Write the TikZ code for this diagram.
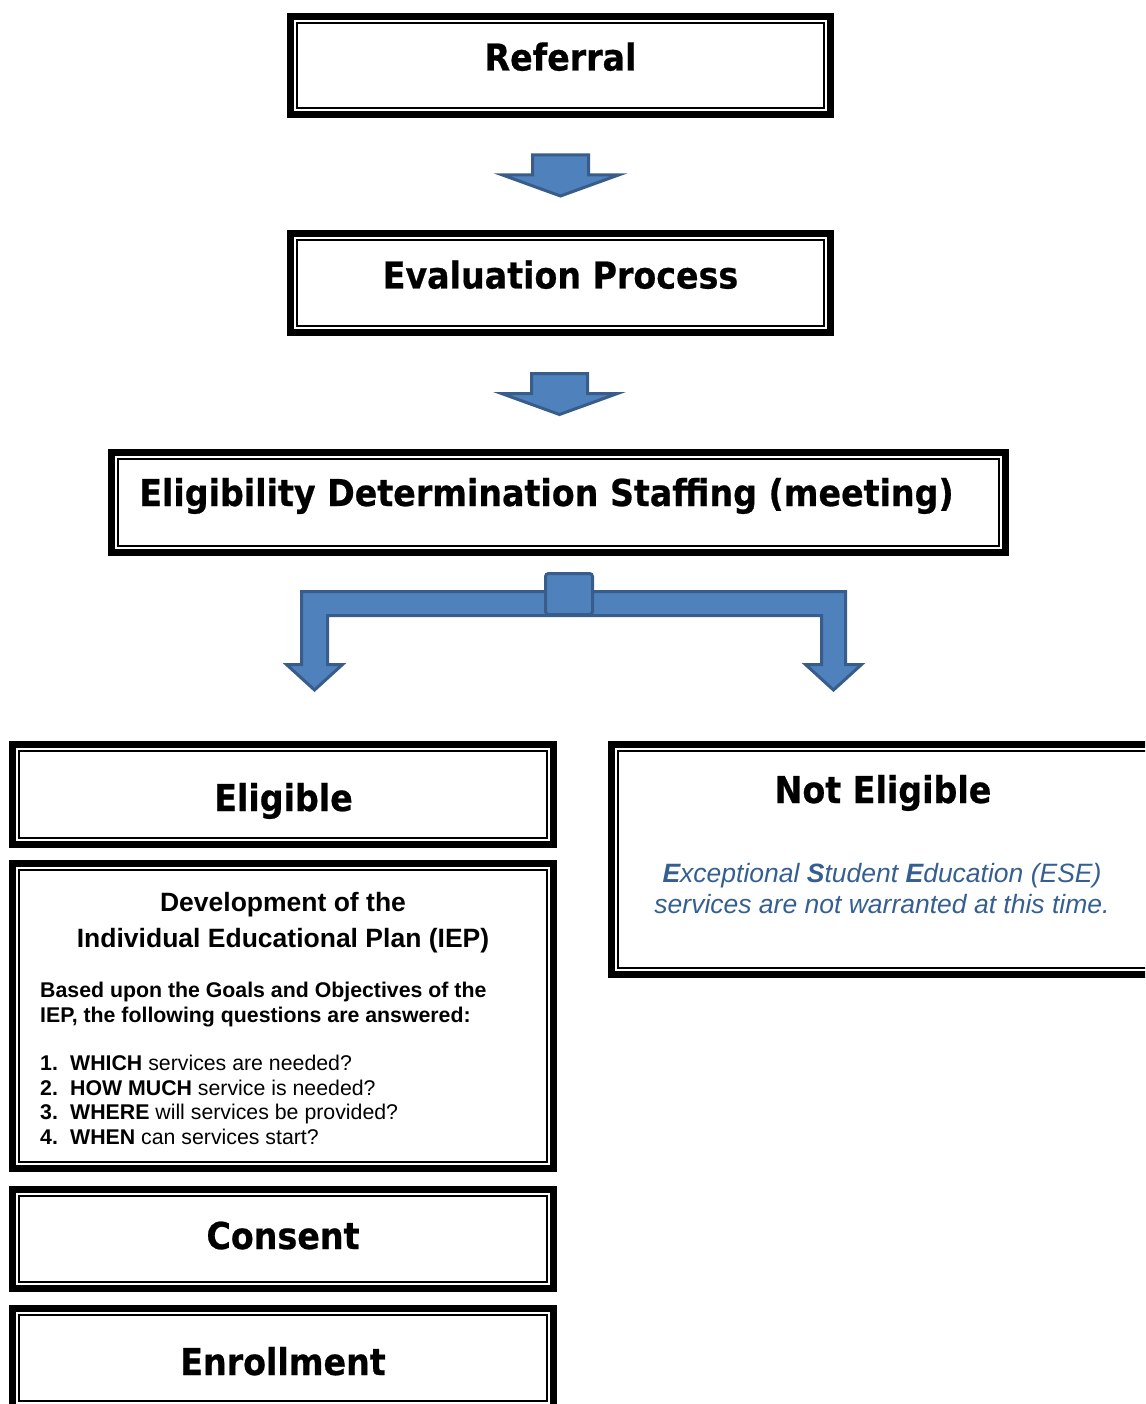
\documentclass[tikz,border=0pt]{standalone}
\usepackage{fontspec}
\setmainfont{Liberation Sans}
\newfontfamily\headfont{DejaVu Sans Condensed}[BoldFeatures={FakeBold=0.6}]
\usepackage{tikz}
\usetikzlibrary{calc}

\definecolor{arrowfill}{RGB}{79,129,189}
\definecolor{arrowline}{RGB}{56,93,138}
\definecolor{eseblue}{RGB}{54,95,145}

\tikzset{
  stagebox/.style={draw, line width=7pt, inner sep=0pt, outer sep=0pt},
  stagetext/.style={anchor=base, font={\headfont\bfseries\fontsize{37}{44}\selectfont}},
  blockarrow/.style={fill=arrowfill, draw=arrowline, line width=3pt, line join=miter},
  bodytext/.style={anchor=base west, inner sep=0pt, font={\fontsize{21.3}{25}\selectfont}},
  headtext/.style={anchor=base, inner sep=0pt, font={\bfseries\fontsize{26.5}{31}\selectfont}},
}

\begin{document}
\begin{tikzpicture}[x=1pt,y=-1pt]
\useasboundingbox (0,0) rectangle (1145,1404);
\clip (0,0) rectangle (1145,1404);

% boxes
\node[stagebox, minimum width=540pt, minimum height=98pt] (ref) at (560.5,65.5) {};
\node[stagebox, minimum width=540pt, minimum height=99pt] (eval) at (560.5,283) {};
\node[stagebox, minimum width=894pt, minimum height=100pt] (elig) at (558.5,502.5) {};
\node[stagebox, minimum width=541pt, minimum height=100pt] (yes) at (283,794.5) {};
\node[stagebox, minimum width=541pt, minimum height=305pt] (iep) at (283,1016) {};
\node[stagebox, minimum width=541pt, minimum height=99pt] (consent) at (283,1239) {};
\node[stagebox, minimum width=541pt, minimum height=99pt] (enrol) at (283,1358) {};
\node[stagebox, minimum width=543pt, minimum height=230pt] (no) at (883,859.5) {};

% thin inner frames
\foreach \b in {ref,eval,elig,yes,iep,consent,enrol,no}
  \draw[line width=1.6pt] ($(\b.north west)+(6.5,6.5)$) rectangle ($(\b.south east)+(-6.5,-6.5)$);

% titles
\node[stagetext] (ref-t) at (560.5,70.5) {Referral};
\node[stagetext] (eval-t) at (560.5,288.5) {Evaluation Process};
\node[stagetext] (elig-t) at (546.5,506) {Eligibility Determination Staffing (meeting)};
\node[stagetext] (yes-t) at (283.5,811) {Eligible};
\node[stagetext] (no-t) at (883,803) {Not Eligible};
\node[stagetext] (consent-t) at (283,1249) {Consent};
\node[stagetext] (enrol-t) at (283,1375) {Enrollment};

% not eligible note
\node[headtext, font={\itshape\fontsize{26.5}{31}\selectfont}, text=eseblue] (no-l1) at (882,882.5)
{\textbf{E}xceptional \textbf{S}tudent \textbf{E}ducation (ESE)};
\node[headtext, font={\itshape\fontsize{26.5}{31}\selectfont}, text=eseblue] (no-l2) at (882,913.5)
{services are not warranted at this time.};

% IEP
\node[headtext] (iep-h1) at (283,911.5) {Development of the};
\node[headtext] (iep-h2) at (283,947.5) {Individual Educational Plan (IEP)};
\node[bodytext, font={\bfseries\fontsize{21.3}{25}\selectfont}] (iep-b1) at (40,997.5)
{Based upon the Goals and Objectives of the};
\node[bodytext, font={\bfseries\fontsize{21.3}{25}\selectfont}] (iep-b2) at (40,1022.5)
{IEP, the following questions are answered:};
\foreach \w/\r [count=\i] in {WHICH/services are needed?,
    HOW MUCH/service is needed?,
    WHERE/will services be provided?,
    WHEN/can services start?}
  \node[bodytext] (iep-q\i) at (40,1046+24.5*\i)
  {\makebox[30pt][l]{\textbf{\i.}}\textbf{\w} \r};

% block arrows
\foreach \a/\b in {ref/eval,eval/elig}
  \draw[blockarrow, shift={($(\a.south)!.5!(\b.north)$)}]
    (-28,-19) -- (28,-19) -- (28,1) -- (58,1) -- (0,22) -- (-58,1) -- (-28,1) -- cycle;

\draw[blockarrow, shift={(elig.south)}]
  (-257,39) -- (287,39) -- (287,112) -- (303,112) -- (275,137.5) -- (247,112)
  -- (263,112) -- (263,63) -- (-231,63) -- (-231,112) -- (-216,112)
  -- (-244,137.5) -- (-272,112) -- (-257,112) -- cycle;
\draw[blockarrow, rounded corners=3pt, shift={(elig.south)}]
  (-13,21) rectangle (34,62);

\end{tikzpicture}
\end{document}
